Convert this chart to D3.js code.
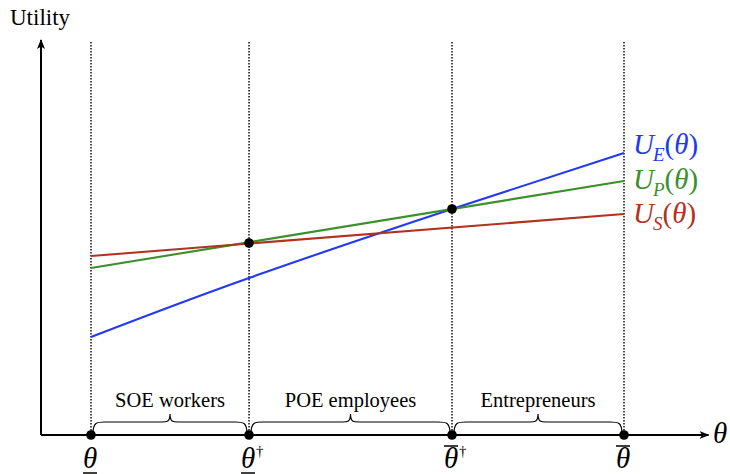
<!DOCTYPE html>
<meta charset="utf-8">
<script src="https://d3js.org/d3.v7.min.js"></script>
<style>
  body { margin: 0; background: #fff; }
  text { font-family: "Liberation Serif", "Times New Roman", serif; }
</style>
<div id="chart"></div>
<script>
    // values (theta on x, utility on y, arbitrary units)
    const thetaTicks = [1, 4.16, 8.22, 11.66];
    const tickBar = ["under", "under", "over", "over"];
    const tickDagger = [false, true, true, false];
    const groups = ["SOE workers", "POE employees", "Entrepreneurs"];

    const usTheta = [1, 11.66], usVals = [17.9, 22.1];
    const upTheta = [1, 11.66], upVals = [16.7, 25.4];
    const ueTheta = [1, 4.16, 8.22, 11.66], ueVals = [9.8, 15.7, 22.6, 28.2];
    const crossTheta = [4.16, 8.22], crossU = [19.2, 22.6];

    const seriesNames = ["E", "P", "S"];
    const seriesColors = ["#2238f2", "#3b8f2c", "#b1321f"];

    const W = 730, H = 474;
    const x = d3.scaleLinear().domain([0, 13.32]).range([41, 707]);
    const y = d3.scaleLinear().domain([0, 39.3]).range([435, 42]);

    const svg = d3.select("#chart").append("svg")
        .attr("width", W).attr("height", H);

    // arrow heads
    const defs = svg.append("defs");
    defs.append("marker").attr("id", "arr")
        .attr("viewBox", "0 0 10 10").attr("refX", 9).attr("refY", 5)
        .attr("markerWidth", 10).attr("markerHeight", 10)
        .attr("markerUnits", "userSpaceOnUse")
        .attr("orient", "auto")
        .append("path").attr("d", "M0,1 L10,5 L0,9 L2.5,5 Z").attr("fill", "#000");

    // dotted vertical guides
    svg.selectAll(".guide").data(thetaTicks).join("line")
        .attr("x1", d => x(d)).attr("x2", d => x(d))
        .attr("y1", y(39.3)).attr("y2", y(0))
        .attr("stroke", "#111").attr("stroke-width", 1.5)
        .attr("stroke-dasharray", "1.5,1.5");

    // axes
    svg.append("line").attr("x1", x(0)).attr("y1", y(0)).attr("x2", x(0)).attr("y2", y(39.5))
        .attr("stroke", "#000").attr("stroke-width", 2).attr("marker-end", "url(#arr)");
    svg.append("line").attr("x1", x(0)).attr("y1", y(0)).attr("x2", x(13.35)).attr("y2", y(0))
        .attr("stroke", "#000").attr("stroke-width", 2).attr("marker-end", "url(#arr)");

    svg.append("text").attr("x", 10).attr("y", 25).attr("font-size", 23).text("Utility");
    svg.append("text").attr("x", 713).attr("y", 443).attr("font-size", 29)
        .attr("font-style", "italic").text("θ");

    // utility curves
    const line = d3.line().x(d => x(d[0])).y(d => y(d[1]));
    const curvy = d3.line().x(d => x(d[0])).y(d => y(d[1])).curve(d3.curveNatural);
    const seriesData = [
        d3.zip(ueTheta, ueVals),
        d3.zip(upTheta, upVals),
        d3.zip(usTheta, usVals)
    ];
    seriesData.forEach((pts, i) => {
        svg.append("path")
            .attr("d", i === 0 ? curvy(pts) : line(pts))
            .attr("fill", "none")
            .attr("stroke", seriesColors[i])
            .attr("stroke-width", 2.1);
    });

    // series labels
    const labelY = [154, 189, 223];
    seriesData.forEach((pts, i) => {
        const t = svg.append("text")
            .attr("x", 633).attr("y", labelY[i])
            .attr("fill", seriesColors[i])
            .attr("font-size", 29).attr("font-style", "italic");
        t.append("tspan").text("U");
        t.append("tspan").attr("font-size", 19).attr("dy", 7).attr("dx", -1).text(seriesNames[i]);
        t.append("tspan").attr("dy", -7).attr("font-style", "normal").text("(");
        t.append("tspan").text("θ");
        t.append("tspan").attr("font-style", "normal").text(")");
    });

    // crossing dots
    svg.selectAll(".cross").data(d3.zip(crossTheta, crossU)).join("circle")
        .attr("cx", d => x(d[0])).attr("cy", d => y(d[1])).attr("r", 4.8).attr("fill", "#000");

    // dots on theta axis
    svg.selectAll(".tick").data(thetaTicks).join("circle")
        .attr("cx", d => x(d)).attr("cy", y(0)).attr("r", 4.8).attr("fill", "#000");

    // theta tick labels
    thetaTicks.forEach((d, i) => {
        const cx = x(d);
        svg.append("text").attr("x", cx - 1).attr("y", 468)
            .attr("text-anchor", "middle").attr("font-size", 29).attr("font-style", "italic")
            .text("θ");
        const by = tickBar[i] === "under" ? 473 : 446;
        svg.append("line").attr("x1", cx - 8).attr("x2", cx + 6).attr("y1", by).attr("y2", by)
            .attr("stroke", "#000").attr("stroke-width", 1.5);
        if (tickDagger[i]) {
            svg.append("text").attr("x", cx + 7).attr("y", 456)
                .attr("font-size", 15).text("†");
        }
    });

    // braces
    function brace(x1, x2, yb, h) {
        const ym = yb - h * 0.6, yt = yb - h, xm = (x1 + x2) / 2;
        return `M${x1},${yb} C${x1},${ym} ${x1 + 4},${ym} ${x1 + 12},${ym}` +
            ` L${xm - 8},${ym} C${xm - 3},${ym} ${xm},${ym} ${xm},${yt}` +
            ` C${xm},${ym} ${xm + 3},${ym} ${xm + 8},${ym}` +
            ` L${x2 - 12},${ym} C${x2 - 4},${ym} ${x2},${ym} ${x2},${yb}`;
    }
    groups.forEach((g, i) => {
        const x1 = x(thetaTicks[i]) + 2, x2 = x(thetaTicks[i + 1]) - 2;
        svg.append("path").attr("d", brace(x1, x2, 434, 20))
            .attr("fill", "none").attr("stroke", "#000").attr("stroke-width", 1.2);
        svg.append("text").attr("x", (x1 + x2) / 2).attr("y", 407)
            .attr("text-anchor", "middle").attr("font-size", 20.5).text(g);
    });
</script>
